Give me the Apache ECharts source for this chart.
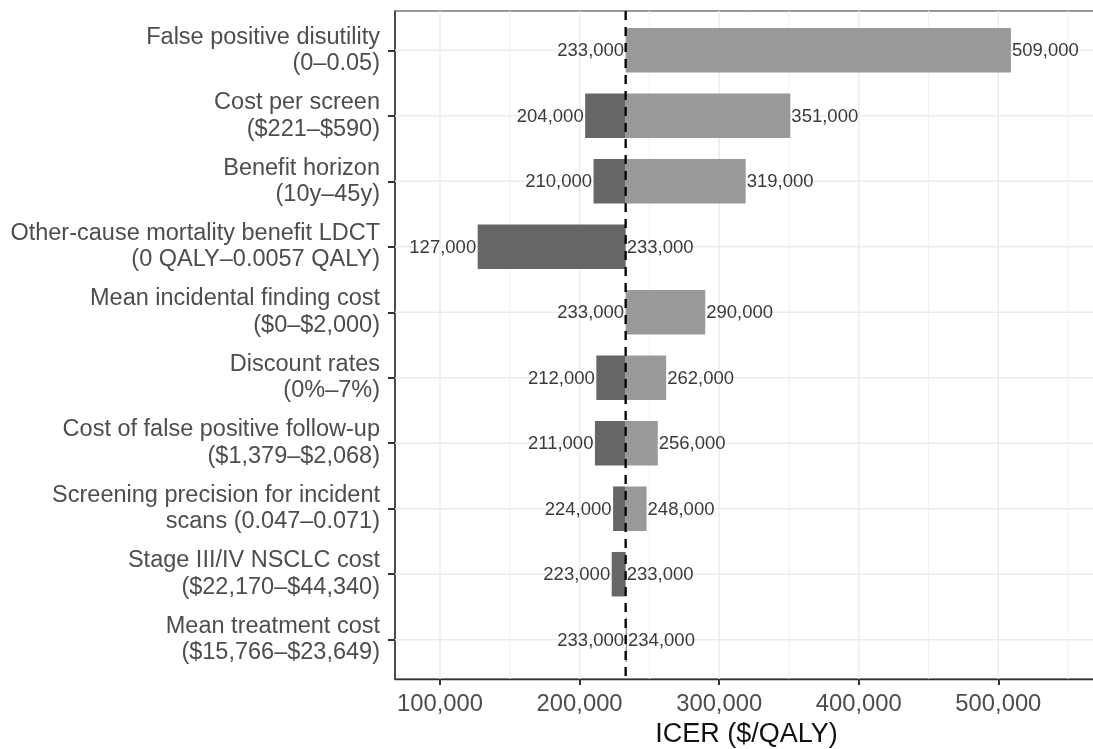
<!DOCTYPE html>
<html>
<head>
<meta charset="utf-8">
<script src="https://cdn.jsdelivr.net/npm/echarts@6/dist/echarts.min.js"></script>
<style>
  html, body { margin: 0; padding: 0; background: #ffffff; overflow: hidden; }
  #chart { width: 1100px; height: 749px; }
</style>
</head>
<body>
<div id="chart"></div>
<script>
// One-way sensitivity analysis (tornado diagram) of the ICER
const categories = [
  'False positive disutility\n(0\u20130.05)',
  'Cost per screen\n($221\u2013$590)',
  'Benefit horizon\n(10y\u201345y)',
  'Other-cause mortality benefit LDCT\n(0 QALY\u20130.0057 QALY)',
  'Mean incidental finding cost\n($0\u2013$2,000)',
  'Discount rates\n(0%\u20137%)',
  'Cost of false positive follow-up\n($1,379\u2013$2,068)',
  'Screening precision for incident\nscans (0.047\u20130.071)',
  'Stage III/IV NSCLC cost\n($22,170\u2013$44,340)',
  'Mean treatment cost\n($15,766\u2013$23,649)'
];
const lowValues  = [233000, 204000, 210000, 127000, 233000, 212000, 211000, 224000, 223000, 233000];
const highValues = [509000, 351000, 319000, 233000, 290000, 262000, 256000, 248000, 233000, 234000];
const baseIcer = 233000;
const xTickValues = [100000, 200000, 300000, 400000, 500000];
const xMinorGrid = [150000, 250000, 350000, 450000, 550000];
const xAxisTitle = 'ICER ($/QALY)';

const FONT = '"Liberation Sans", Arial, sans-serif';
const fmt = v => v.toLocaleString('en-US');
const rowIdx = categories.map((c, i) => i);
const barHalf = 0.34;

const chart = echarts.init(document.getElementById('chart'), null, { renderer: 'canvas' });

// panel grid lines: [orientation (0 = vertical, 1 = horizontal), value, major flag]
const gridData = [];
xTickValues.forEach(v => gridData.push([0, v, 1]));
xMinorGrid.forEach(v => gridData.push([0, v, 0]));
rowIdx.forEach(i => gridData.push([1, i, 1]));

function renderGrid(params, api) {
  const cs = params.coordSys;
  const dir = api.value(0);
  const v = api.value(1);
  const major = api.value(2) === 1;
  const style = { stroke: major ? '#ebebeb' : '#f2f2f2', lineWidth: major ? 1.4 : 1, fill: null };
  if (dir === 0) {
    const x = api.coord([v, 0])[0];
    return { type: 'line', silent: true, shape: { x1: x, y1: cs.y, x2: x, y2: cs.y + cs.height }, style };
  }
  const y = api.coord([baseIcer, v])[1];
  return { type: 'line', silent: true, shape: { x1: cs.x, y1: y, x2: cs.x + cs.width, y2: y }, style };
}

function renderRef(params, api) {
  const cs = params.coordSys;
  const x = api.coord([api.value(0), 0])[0];
  return { type: 'line', silent: true, shape: { x1: x, y1: cs.y, x2: x, y2: cs.y + cs.height },
    style: { stroke: '#000000', lineWidth: 2.3, lineDash: [9, 7], fill: null } };
}

function renderBar(params, api) {
  const idx = api.value(0);
  const lo = api.value(1);
  const hi = api.value(2);
  const children = [];
  const top = api.coord([baseIcer, idx - barHalf])[1];
  const bottom = api.coord([baseIcer, idx + barHalf])[1];
  const yMid = api.coord([baseIcer, idx])[1];
  const xBase = api.coord([baseIcer, idx])[0];
  const xLo = api.coord([lo, idx])[0];
  const xHi = api.coord([hi, idx])[0];
  if (lo < baseIcer) {
    children.push({ type: 'rect', shape: { x: xLo, y: top, width: xBase - xLo, height: bottom - top },
      style: { fill: '#666666' } });
  }
  if (hi > baseIcer) {
    children.push({ type: 'rect', shape: { x: xBase, y: top, width: xHi - xBase, height: bottom - top },
      style: { fill: '#999999' } });
  }
  children.push({ type: 'text', z2: 10, style: { x: xLo - 1.5, y: yMid + 1, text: fmt(lo), align: 'right', verticalAlign: 'middle',
    fill: '#3a3a3a', font: '18.5px ' + FONT } });
  children.push({ type: 'text', z2: 10, style: { x: xHi + 1, y: yMid + 1, text: fmt(hi), align: 'left', verticalAlign: 'middle',
    fill: '#3a3a3a', font: '18.5px ' + FONT } });
  return { type: 'group', children };
}

chart.setOption({
  animation: false,
  backgroundColor: '#ffffff',
  grid: { left: 395, top: 11, right: 2, bottom: 70, outerBoundsMode: 'none', containLabel: false,
    show: true, borderColor: '#333333', borderWidth: 1, backgroundColor: 'transparent' },
  xAxis: {
    type: 'value', min: 67760, max: 571400,
    name: xAxisTitle, nameLocation: 'middle', nameGap: 42,
    nameTextStyle: { fontFamily: FONT, fontSize: 27, color: '#111111' },
    axisLine: { show: true, onZero: false, lineStyle: { color: '#333333', width: 1.3 } },
    axisTick: { show: true, length: 6, customValues: xTickValues, lineStyle: { color: '#333333', width: 2 } },
    axisLabel: { customValues: xTickValues, margin: 13.5, formatter: v => fmt(v), fontFamily: FONT, fontSize: 23.8, color: '#4d4d4d' },
    splitLine: { show: false }
  },
  yAxis: {
    type: 'value', min: -0.6, max: 9.6, inverse: true,
    axisLine: { show: true, onZero: false, lineStyle: { color: '#333333', width: 1.5 } },
    axisTick: { show: true, length: 7, customValues: rowIdx, lineStyle: { color: '#333333', width: 2 } },
    axisLabel: { customValues: rowIdx, margin: 15, formatter: v => categories[Math.round(v)],
      fontFamily: FONT, fontSize: 23.5, lineHeight: 26.5, color: '#4d4d4d', align: 'right' },
    splitLine: { show: false }
  },
  series: [
    {
      type: 'custom', name: 'grid', z: 1, silent: true, renderItem: renderGrid,
      encode: { x: 1 },
      data: gridData
    },
    {
      type: 'custom', name: 'range', z: 3, renderItem: renderBar,
      encode: { x: [1, 2], y: 0 },
      data: rowIdx.map(i => [i, lowValues[i], highValues[i]])
    },
    {
      type: 'custom', name: 'base', z: 5, silent: true, renderItem: renderRef,
      encode: { x: 0 },
      data: [[baseIcer]]
    }
  ]
});
</script>
</body>
</html>
